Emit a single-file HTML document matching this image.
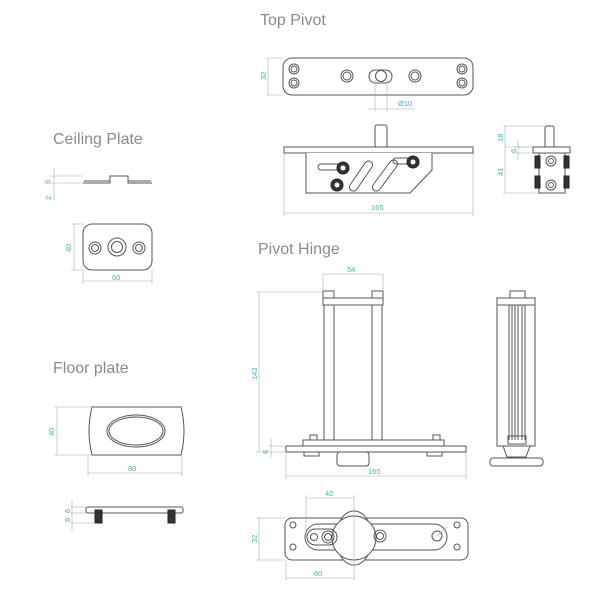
<!DOCTYPE html>
<html><head><meta charset="utf-8"><style>
html,body{margin:0;padding:0;background:#fff;width:600px;height:600px;overflow:hidden}
svg{display:block}
.t{font-family:"Liberation Sans",sans-serif;font-size:16px;fill:#8a8a8a}
.d{font-family:"Liberation Sans",sans-serif;font-size:7.5px;fill:#3fb3b3}
.l{fill:none;stroke:#555;stroke-width:1}
.f{fill:#fff;stroke:#555;stroke-width:1}
.m{fill:none;stroke:#aaa;stroke-width:0.6}
.k{fill:#333;stroke:#222}
</style></head><body>
<svg width="600" height="600" viewBox="0 0 600 600" xmlns="http://www.w3.org/2000/svg">
<!-- titles -->
<text class="t" x="260" y="25">Top Pivot</text>
<text class="t" x="53" y="144">Ceiling Plate</text>
<text class="t" x="258" y="254">Pivot Hinge</text>
<text class="t" x="53" y="373">Floor plate</text>

<!-- TOP PIVOT plate -->
<rect class="f" x="283" y="58" width="190" height="37" rx="9"/>
<g class="l">
<circle cx="294" cy="69" r="5"/><circle cx="294" cy="69" r="3"/>
<circle cx="294" cy="83" r="5"/><circle cx="294" cy="83" r="3"/>
<circle cx="462" cy="69" r="5"/><circle cx="462" cy="69" r="3"/>
<circle cx="462" cy="83" r="5"/><circle cx="462" cy="83" r="3"/>
<circle cx="347" cy="76" r="6"/><circle cx="347" cy="76" r="4"/>
<circle cx="415" cy="76" r="6"/><circle cx="415" cy="76" r="4"/>
<rect x="369" y="70" width="23" height="13" rx="6.5"/><circle cx="381" cy="76" r="5.5"/>
</g>
<g class="m"><line x1="266" y1="58" x2="283" y2="58"/><line x1="266" y1="95" x2="283" y2="95"/><line x1="268" y1="58" x2="268" y2="95"/>
<line x1="375" y1="80" x2="375" y2="111"/><line x1="387" y1="80" x2="387" y2="111"/><line x1="368" y1="109" x2="415" y2="109"/></g>
<text class="d" transform="translate(266,80) rotate(-90)">32</text>
<text class="d" x="398" y="106">Ø10</text>

<!-- top pivot side -->
<rect class="f" x="375" y="125" width="12" height="22" rx="2"/>
<rect class="f" x="284" y="147" width="189" height="6"/>
<path class="f" d="M306 153 V193 H410 L432 170 V153"/>
<g class="l">
<rect x="318" y="164" width="22" height="6" rx="3"/>
<path d="M350 185 L365 163 a4 4 0 0 1 7 4 L357 189 a4 4 0 0 1 -7 -4z"/>
<path d="M373 185 L390 162 a4 4 0 0 1 7 4 L380 189 a4 4 0 0 1 -7 -4z"/>
<rect x="393" y="158" width="22" height="6" rx="3"/>
</g>
<g class="k"><circle cx="343" cy="168" r="6"/><circle cx="337" cy="185" r="6"/><circle cx="413" cy="162" r="6"/></g>
<g fill="#fff"><circle cx="343" cy="168" r="2.5"/><circle cx="337" cy="185" r="2.5"/><circle cx="413" cy="162" r="2.5"/></g>
<g class="m"><line x1="284" y1="153" x2="284" y2="216"/><line x1="473" y1="153" x2="473" y2="216"/><line x1="284" y1="213" x2="473" y2="213"/></g>
<text class="d" x="371" y="210">165</text>

<!-- top pivot right side -->
<rect class="f" x="545" y="126" width="9" height="22" rx="2"/>
<rect class="f" x="533" y="147" width="37" height="6"/>
<rect class="f" x="539" y="153" width="26" height="40"/>
<g class="k"><rect x="535" y="156" width="5" height="12"/><rect x="564" y="156" width="5" height="12"/><rect x="535" y="176" width="5" height="12"/><rect x="564" y="176" width="5" height="12"/></g>
<g class="l"><circle cx="551" cy="161" r="5"/><circle cx="551" cy="161" r="2.5"/><circle cx="551" cy="185" r="5"/><circle cx="551" cy="185" r="2.5"/></g>
<g class="m"><line x1="503" y1="126" x2="545" y2="126"/><line x1="503" y1="193" x2="539" y2="193"/><line x1="505" y1="126" x2="505" y2="193"/><line x1="514" y1="147" x2="533" y2="147"/><line x1="514" y1="153" x2="533" y2="153"/><line x1="518" y1="140" x2="518" y2="160"/><line x1="505" y1="147" x2="533" y2="147"/></g>
<text class="d" transform="translate(503,142) rotate(-90)">18</text>
<text class="d" transform="translate(516,153) rotate(-90)">6</text>
<text class="d" transform="translate(503,176) rotate(-90)">41</text>

<!-- CEILING PLATE side -->
<path class="l" d="M83 183 H110 V176 H128 V183 H152 M84 181 H110 M128 181 H151"/>
<g class="m"><line x1="50" y1="176" x2="83" y2="176"/><line x1="50" y1="183" x2="83" y2="183"/><line x1="54" y1="168" x2="54" y2="200"/></g>
<text class="d" transform="translate(50,184) rotate(-90)">6</text>
<text class="d" transform="translate(51,200) rotate(-90)">2</text>
<!-- ceiling plate -->
<rect class="f" x="83" y="224" width="69" height="46" rx="9"/>
<g class="l"><circle cx="95" cy="248" r="6"/><circle cx="95" cy="248" r="3.5"/><circle cx="117" cy="247" r="9"/><circle cx="117" cy="247" r="5.5"/><circle cx="139" cy="248" r="6"/><circle cx="139" cy="248" r="3.5"/></g>
<g class="m"><line x1="71" y1="224" x2="83" y2="224"/><line x1="71" y1="270" x2="83" y2="270"/><line x1="74" y1="224" x2="74" y2="270"/><line x1="83" y1="270" x2="83" y2="284"/><line x1="152" y1="270" x2="152" y2="284"/><line x1="83" y1="281" x2="152" y2="281"/></g>
<text class="d" transform="translate(71,252) rotate(-90)">40</text>
<text class="d" x="112" y="280">60</text>

<!-- FLOOR PLATE -->
<path class="f" d="M92 407 H181 Q187 431 181 455 H92 Q86 431 92 407Z"/>
<ellipse class="l" cx="136" cy="431" rx="29" ry="16"/>
<ellipse class="l" cx="136" cy="431" rx="27" ry="14"/>
<g class="m"><line x1="54" y1="407" x2="92" y2="407"/><line x1="54" y1="455" x2="92" y2="455"/><line x1="57" y1="407" x2="57" y2="455"/><line x1="88" y1="455" x2="88" y2="476"/><line x1="182" y1="455" x2="182" y2="476"/><line x1="88" y1="473" x2="182" y2="473"/></g>
<text class="d" transform="translate(54,436) rotate(-90)">40</text>
<text class="d" x="128" y="471">80</text>
<rect class="f" x="86" y="507" width="97" height="6" rx="2"/>
<g class="k"><rect x="95" y="510" width="7" height="13"/><rect x="168" y="510" width="7" height="13"/></g>
<g class="m"><line x1="70" y1="507" x2="86" y2="507"/><line x1="70" y1="513" x2="86" y2="513"/><line x1="70" y1="523" x2="95" y2="523"/><line x1="72" y1="500" x2="72" y2="530"/></g>
<text class="d" transform="translate(70,513) rotate(-90)">6</text>
<text class="d" transform="translate(70,522) rotate(-90)">8</text>

<!-- PIVOT HINGE front -->
<rect class="f" x="323" y="291" width="11" height="7"/><rect class="f" x="372" y="291" width="11" height="7"/>
<rect class="f" x="323" y="298" width="60" height="7"/>
<rect class="f" x="324" y="305" width="10" height="135"/><rect class="f" x="372" y="305" width="10" height="135"/>
<rect class="f" x="310" y="435" width="7" height="5"/><rect class="f" x="433" y="435" width="7" height="5"/>
<rect class="f" x="303" y="440" width="141" height="6"/>
<path class="f" d="M286 446 H466 V452 H286Z"/>
<rect class="f" x="304" y="452" width="15" height="4"/><rect class="f" x="427" y="452" width="15" height="4"/>
<rect class="f" x="337" y="452" width="32" height="14" rx="3"/>
<g class="m"><line x1="323" y1="274" x2="323" y2="291"/><line x1="383" y1="274" x2="383" y2="291"/><line x1="323" y1="274" x2="383" y2="274"/>
<line x1="256" y1="292" x2="323" y2="292"/><line x1="256" y1="452" x2="286" y2="452"/><line x1="259" y1="292" x2="259" y2="452"/>
<line x1="268" y1="446" x2="286" y2="446"/><line x1="271" y1="438" x2="271" y2="458"/>
<line x1="286" y1="452" x2="286" y2="479"/><line x1="466" y1="452" x2="466" y2="479"/><line x1="286" y1="476" x2="466" y2="476"/></g>
<text class="d" x="347" y="272">54</text>
<text class="d" transform="translate(257,380) rotate(-90)">143</text>
<text class="d" transform="translate(268,454) rotate(-90)">6</text>
<text class="d" x="368" y="474">160</text>

<!-- hinge side -->
<rect class="f" x="510" y="291" width="15" height="8"/>
<rect class="f" x="497" y="298" width="38" height="148"/>
<g class="l"><line x1="497" y1="305" x2="535" y2="305"/><line x1="509" y1="305" x2="509" y2="440"/><line x1="512" y1="305" x2="512" y2="440"/><line x1="515" y1="305" x2="515" y2="440"/><line x1="518" y1="305" x2="518" y2="440"/><line x1="522" y1="305" x2="522" y2="440"/><line x1="525" y1="305" x2="525" y2="440"/>
<rect x="508" y="436" width="18" height="8"/><path d="M503 446 L507 457 H526 L530 446"/></g>
<rect class="f" x="490" y="458" width="53" height="8" rx="3"/>

<!-- bottom plate -->
<rect class="f" x="285" y="518" width="183" height="42" rx="7"/>
<rect class="l" x="305" y="524" width="142" height="26" rx="13"/>
<ellipse class="f" cx="354" cy="538" rx="18" ry="27"/>
<circle class="f" cx="354" cy="538" r="22"/>
<g class="l"><circle cx="328" cy="537" r="6"/><circle cx="328" cy="537" r="3.5"/><circle cx="380" cy="536" r="6"/><circle cx="380" cy="536" r="3.5"/><circle cx="437" cy="536" r="5"/>
<circle cx="293" cy="525" r="3"/><circle cx="293" cy="547" r="3"/><circle cx="457" cy="525" r="3"/><circle cx="457" cy="547" r="3"/>
<rect x="307" y="529" width="30" height="16" rx="8"/><circle cx="314" cy="537" r="3.5"/></g>
<g class="m"><line x1="306" y1="495" x2="306" y2="535"/><line x1="354" y1="495" x2="354" y2="580"/><line x1="306" y1="498" x2="354" y2="498"/>
<line x1="256" y1="518" x2="285" y2="518"/><line x1="256" y1="560" x2="285" y2="560"/><line x1="259" y1="518" x2="259" y2="560"/>
<line x1="286" y1="560" x2="286" y2="581"/><line x1="286" y1="578" x2="354" y2="578"/><line x1="437" y1="536" x2="447" y2="527"/></g>
<text class="d" x="325" y="496">42</text>
<text class="d" transform="translate(257,543) rotate(-90)">32</text>
<text class="d" x="314" y="576">60</text>
</svg>
</body></html>
